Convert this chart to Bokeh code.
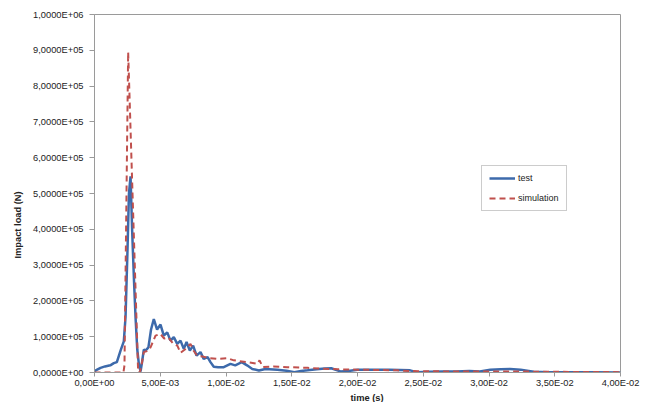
from bokeh.plotting import figure
from bokeh.models import Range1d, FixedTicker, CustomJSTickFormatter, Legend, LegendItem, Title
from bokeh.embed import file_html
from bokeh.resources import INLINE

# ---- data (time in ms, load in N) ----
test_t_ms = [0, 0.2, 0.46, 0.8, 1.2, 1.47, 1.7, 1.98, 2.23, 2.36, 2.5, 2.62, 2.74, 2.86, 3.0,
             3.12, 3.25, 3.37, 3.5, 3.62, 3.75, 3.9, 4.1, 4.3, 4.51, 4.76, 5.02, 5.27, 5.53,
             5.78, 6.03, 6.29, 6.54, 6.79, 7.0, 7.25, 7.5, 7.76, 8.06, 8.3, 8.6, 8.82, 9.07,
             9.4, 9.83, 10.34, 10.7, 11.2, 11.6, 12.0, 12.5, 13.0, 13.9, 14.6, 15.2, 15.7,
             16.2, 16.9, 17.5, 18.0, 18.7, 19.3, 20.0, 20.8, 21.6, 22.4, 23.2, 24.0, 24.5,
             25.5, 26.5, 27.5, 28.5, 29.3, 30.1, 30.9, 31.6, 32.4, 33.4, 34.5, 36.0, 38.0, 40.0]
test_load = [4e3, 8e3, 1.3e4, 1.7e4, 2.0e4, 2.6e4, 2.9e4, 6.1e4, 8.7e4, 1.55e5, 3.3e5, 5.0e5,
             5.48e5, 4.0e5, 2.6e5, 1.55e5, 6.5e4, 2.5e4, 3e3, 3.0e4, 6.4e4, 6.2e4, 7.0e4,
             1.2e5, 1.49e5, 1.2e5, 1.34e5, 1.03e5, 1.12e5, 8.9e4, 9.9e4, 8.0e4, 8.9e4, 6.6e4,
             8.5e4, 6.1e4, 7.5e4, 4.7e4, 5.7e4, 3.8e4, 4.3e4, 2.9e4, 1.6e4, 1.5e4, 1.5e4,
             2.4e4, 2.0e4, 2.9e4, 2.0e4, 1.0e4, 5.6e3, 1.0e4, 7.5e3, 5.0e3, 1.0e3, 4.0e3,
             6.0e3, 9.0e3, 1.1e4, 1.2e4, 3.0e3, 4.0e3, 7.5e3, 7.5e3, 8.0e3, 8.0e3, 7.0e3,
             6.0e3, 1.0e3, 2.0e3, 3.0e3, 3.0e3, 4.0e3, 3.0e3, 7.5e3, 9.0e3, 1.0e4, 8.0e3,
             2.0e3, 1.0e3, 1.0e3, 5e2, 0]

sim_t_ms = [0, 2.2, 2.28, 2.56, 2.9, 3.32, 3.45, 3.6, 3.75, 4.0, 4.26, 4.64, 5.0, 5.3, 5.6,
            6.0, 6.3, 6.54, 6.9, 7.3, 7.55, 7.8, 8.2, 8.57, 9.33, 10.1, 10.6, 11.6, 12.4,
            12.55, 12.8, 13.6, 14.65, 16.2, 17.2, 18.5, 20.0, 21.5, 23.0, 24.0, 25.0, 27.0,
            29.0, 31.0, 33.0, 35.0, 37.0, 40.0]
sim_load = [0, 0, 2e4, 8.95e5, 4.9e5, 0, 0, 2.5e4, 5.7e4, 6.0e4, 7.0e4, 1.03e5, 1.08e5,
            9.5e4, 9.8e4, 8.0e4, 7.5e4, 5.5e4, 6.5e4, 8.0e4, 6.0e4, 4.7e4, 4.5e4, 4.1e4,
            3.8e4, 4.0e4, 3.4e4, 2.9e4, 2.4e4, 3.4e4, 1.5e4, 1.7e4, 1.5e4, 1.3e4, 1.1e4,
            9e3, 8e3, 7e3, 6e3, 4e3, 3.5e3, 3e3, 3e3, 3e3, 2.5e3, 2e3, 1.5e3, 1e3]

x_ticks = [0, 0.005, 0.01, 0.015, 0.02, 0.025, 0.03, 0.035, 0.04]
y_ticks = [0, 1e5, 2e5, 3e5, 4e5, 5e5, 6e5, 7e5, 8e5, 9e5, 1e6]
x_title = "time (s)"
y_title = "Impact load (N)"

test_t = [v * 1e-3 for v in test_t_ms]
sim_t = [v * 1e-3 for v in sim_t_ms]

FONT = "Liberation Sans"
AX = "#9a9a9a"
TXT = "#222222"

p = figure(width=640, height=402, output_backend="svg", toolbar_location=None,
           x_range=Range1d(0, 0.04), y_range=Range1d(0, 1e6),
           min_border_left=94, min_border_right=20, min_border_top=14, min_border_bottom=30)
p.background_fill_color = "white"
p.border_fill_color = "white"
p.outline_line_color = AX
p.outline_line_width = 1
p.xgrid.visible = False
p.ygrid.visible = False

def fmt(digits):
    return CustomJSTickFormatter(code=f"""
        const s = tick.toExponential({digits});
        const parts = s.split('e');
        const e = parseInt(parts[1]);
        const sign = e < 0 ? '-' : '+';
        const d = String(Math.abs(e)).padStart(2, '0');
        return parts[0].replace('.', ',') + 'E' + sign + d;
    """)

for ax in (p.xaxis[0], p.yaxis[0]):
    ax.axis_line_color = AX
    ax.major_tick_line_color = AX
    ax.minor_tick_line_color = None
    ax.major_tick_in = 0
    ax.major_label_text_font = FONT
    ax.major_label_text_font_size = "9.3px"
    ax.major_label_text_color = TXT

p.xaxis.major_tick_out = 4
p.yaxis.major_tick_out = 5
p.xaxis.ticker = FixedTicker(ticks=x_ticks)
p.yaxis.ticker = FixedTicker(ticks=y_ticks)
p.xaxis.formatter = fmt(2)
p.yaxis.formatter = fmt(4)
p.xaxis.major_label_standoff = 1
p.yaxis.major_label_standoff = 6

r_test = p.line(test_t, test_load, line_color="#3d6aab", line_width=2.5)
r_sim = p.line(sim_t, sim_load, line_color="#c0504d", line_width=2, line_dash="6 4")

# axis titles as side titles (so they can be offset from the centre)
xt = Title(text=x_title, align="left", offset=256, standoff=0,
           text_font=FONT, text_font_size="9.3px", text_font_style="bold", text_color=TXT)
yt = Title(text=y_title, align="left", offset=114, standoff=15,
           text_font=FONT, text_font_size="9.3px", text_font_style="bold", text_color=TXT)
p.add_layout(xt, "below")
p.add_layout(yt, "left")

legend = Legend(items=[LegendItem(label="test", renderers=[r_test]),
                       LegendItem(label="simulation", renderers=[r_sim])],
                location=(387, 161))
legend.border_line_color = AX
legend.border_line_width = 1
legend.background_fill_color = "white"
legend.label_text_font = FONT
legend.label_text_font_size = "9px"
legend.label_text_color = TXT
legend.glyph_width = 26
legend.glyph_height = 10
legend.label_height = 10
legend.label_standoff = 3
legend.spacing = 10
legend.padding = 7
legend.margin = 0
p.add_layout(legend)

open("out.html", "w").write(file_html(p, INLINE))
